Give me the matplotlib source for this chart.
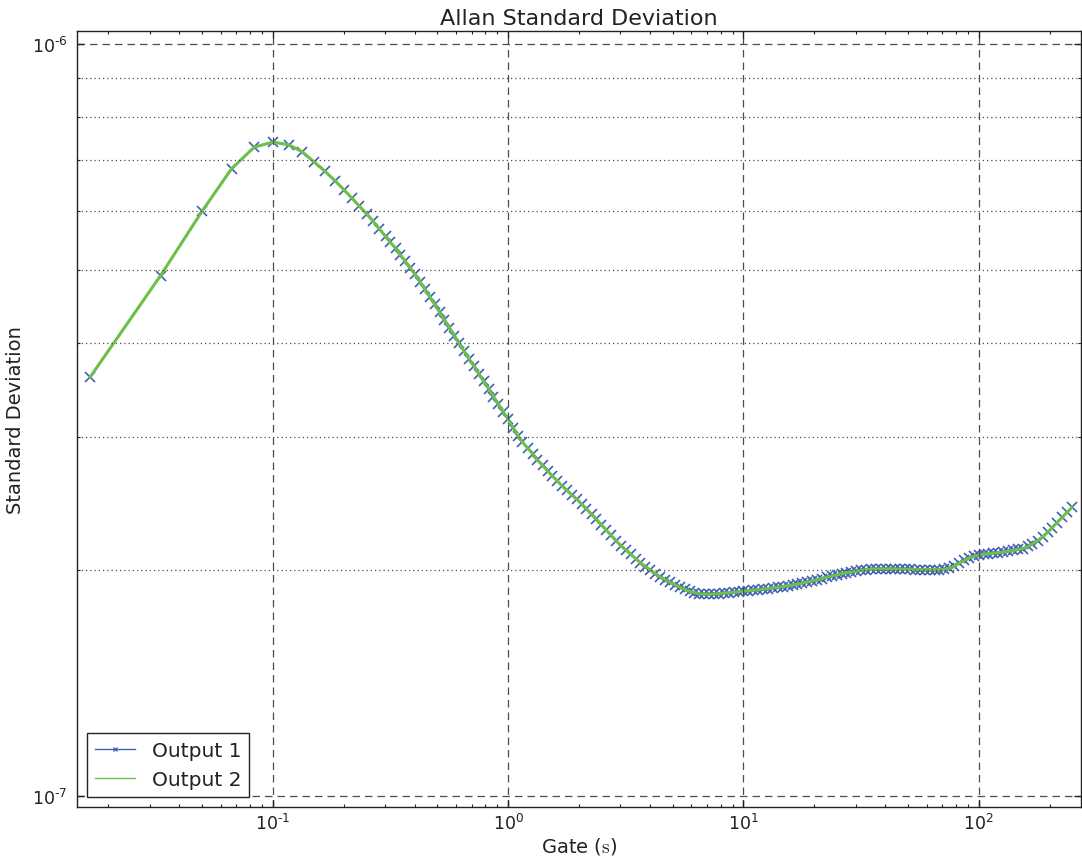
import matplotlib

matplotlib.use("Agg")
import matplotlib.pyplot as plt
import numpy as np
from matplotlib.lines import Line2D
from matplotlib.ticker import FuncFormatter, NullFormatter

# gate times (s) and Allan deviation (units of 1e-7)
TAU = [
    0.0167, 0.0333, 0.05, 0.0667, 0.0833, 0.1, 0.1167, 0.1333, 0.15, 0.1667,
    0.1833, 0.2, 0.2167, 0.2333, 0.25, 0.2667, 0.2833,
    0.301, 0.316, 0.332, 0.348, 0.365, 0.383, 0.402, 0.422, 0.442, 0.464,
    0.487, 0.511, 0.536, 0.562, 0.590, 0.619, 0.649, 0.681, 0.715, 0.750,
    0.787, 0.825, 0.866, 0.909, 0.953,
    1.00, 1.05, 1.10, 1.15, 1.21, 1.27, 1.33, 1.40, 1.47, 1.54, 1.62, 1.69,
    1.78, 1.87, 1.96, 2.05, 2.15, 2.26, 2.37, 2.49, 2.61, 2.74, 2.87, 3.01,
    3.16, 3.32, 3.48, 3.65, 3.83, 4.02, 4.22, 4.42, 4.64, 4.87, 5.11, 5.36,
    5.62, 5.90, 6.19, 6.49, 6.81, 7.15, 7.50, 7.87, 8.25, 8.66, 9.09, 9.53,
    10.0, 10.5, 11.0, 11.5, 12.1, 12.7, 13.3, 14.0, 14.7, 15.4, 16.2, 16.9,
    17.8, 18.7, 19.6, 20.5, 21.5, 22.6, 23.7, 24.9, 26.1, 27.4, 28.7, 30.1,
    31.6, 33.2, 34.8, 36.5, 38.3, 40.2, 42.2, 44.2, 46.4, 48.7, 51.1, 53.6,
    56.2, 59.0, 61.9, 64.9, 68.1, 71.5, 75.0, 78.7, 82.5, 86.6, 90.9, 95.3,
    100, 105, 110, 115, 121, 127, 133, 140, 147, 154, 162, 169,
    178, 187, 196, 205, 215, 226, 237, 249,
]

OUTPUT_1 = [
    3.604, 4.919, 5.991, 6.822, 7.289, 7.402, 7.341, 7.185, 6.962, 6.765,
    6.580, 6.401, 6.235, 6.081, 5.942, 5.808, 5.675,
    5.546, 5.447, 5.346, 5.244, 5.141, 5.040, 4.936, 4.829, 4.718, 4.610,
    4.504, 4.400, 4.296, 4.194, 4.094, 3.998, 3.906, 3.815, 3.728, 3.642,
    3.558, 3.477, 3.397, 3.319, 3.243,
    3.167, 3.089, 3.012, 2.955, 2.901, 2.850, 2.799, 2.751, 2.706, 2.663,
    2.624, 2.585, 2.548, 2.510, 2.480, 2.445, 2.407, 2.369, 2.332, 2.295,
    2.257, 2.221, 2.186, 2.153, 2.124, 2.095, 2.068, 2.042, 2.019, 1.997,
    1.976, 1.955, 1.940, 1.924, 1.910, 1.895, 1.883, 1.871, 1.864, 1.857,
    1.856, 1.855, 1.856, 1.858, 1.861, 1.863, 1.866, 1.869,
    1.873, 1.875, 1.878, 1.880, 1.884, 1.887, 1.892, 1.895, 1.899, 1.903,
    1.908, 1.913, 1.919, 1.926, 1.932, 1.939, 1.946, 1.954, 1.961, 1.968,
    1.975, 1.981, 1.986, 1.991, 1.995, 1.999, 2.002, 2.004, 2.004, 2.004,
    2.004, 2.003, 2.002, 2.001, 2.001, 2.000, 2.000, 2.000, 2.000, 2.000,
    2.000, 2.001, 2.007, 2.020, 2.040, 2.057, 2.072, 2.083,
    2.091, 2.096, 2.100, 2.103, 2.106, 2.109, 2.115, 2.121, 2.127, 2.133,
    2.147, 2.164, 2.186, 2.211, 2.241, 2.273, 2.309, 2.346, 2.382, 2.420,
]

# the second output lies on top of the first at this resolution
OUTPUT_2 = list(OUTPUT_1)

BLUE = "#3f5fb5"
GREEN = "#6cc04a"
GRID = "0.3"
TEXT = "#222222"


def decade_label(value, pos):
    exp = int(round(np.log10(value)))
    return "$\\mathdefault{10^{%s}}$" % str(exp).replace("-", "\u2010")


def plot_chart() -> None:
    plt.rcParams["mathtext.fontset"] = "cm"
    plt.rcParams["text.color"] = TEXT
    plt.rcParams["axes.labelcolor"] = TEXT
    plt.rcParams["xtick.color"] = TEXT
    plt.rcParams["ytick.color"] = TEXT

    tau = np.array(TAU)
    sig1 = np.array(OUTPUT_1) * 1e-7
    sig2 = np.array(OUTPUT_2) * 1e-7

    fig = plt.figure(figsize=(10.82, 8.62), dpi=100)
    fig.patch.set_facecolor("white")
    ax = fig.add_axes([77 / 1082, 1 - 808 / 862, 1004 / 1082, 776 / 862])

    ax.loglog(tau, sig1, color=BLUE, marker="x", markersize=6.5, markeredgewidth=1.2,
              linewidth=1.0, zorder=2)
    ax.loglog(tau, sig2, color=GREEN, linewidth=2.2, zorder=2.1)

    ax.set_xlim(0.0147, 272)
    ax.set_ylim(0.967e-7, 1.04e-6)

    ax.set_axisbelow(False)
    ax.grid(True, which="major", linestyle=(0, (6, 4)), color=GRID, linewidth=0.9)
    ax.yaxis.grid(True, which="minor", linestyle=(0, (1, 2.4)), color=GRID, linewidth=0.9)
    ax.xaxis.set_major_formatter(FuncFormatter(decade_label))
    ax.yaxis.set_major_formatter(FuncFormatter(decade_label))
    ax.yaxis.set_minor_formatter(NullFormatter())

    ax.tick_params(which="both", direction="in", top=True, right=True)
    ax.tick_params(which="major", length=5, width=1, labelsize=12.5)
    ax.tick_params(which="minor", length=2.5, width=0.8)
    ax.tick_params(axis="x", which="major", pad=4)
    ax.tick_params(axis="y", which="major", pad=7)

    for spine in ax.spines.values():
        spine.set_color("#222222")
        spine.set_linewidth(1.0)

    ax.set_title("Allan Standard Deviation", fontsize=16, pad=5)
    ax.set_xlabel("Gate ($\\mathrm{s}$)", fontsize=14, labelpad=2)
    ax.set_ylabel("Standard Deviation", fontsize=14, labelpad=5)

    handles = [
        Line2D([], [], color=BLUE, linewidth=1.0, marker="x", markersize=3,
               markeredgewidth=0.9),
        Line2D([], [], color=GREEN, linewidth=1.0),
    ]
    legend = ax.legend(
        handles,
        ["Output 1", "Output 2"],
        loc="lower left",
        numpoints=1,
        fontsize=14.5,
        fancybox=False,
        framealpha=1.0,
        borderaxespad=0.5,
        handlelength=2.0,
    )
    legend.get_frame().set_edgecolor("#222222")
    legend.get_frame().set_linewidth(1.0)

    fig.savefig("out.png", dpi=100)
    plt.close(fig)


def main() -> None:
    plot_chart()


if __name__ == "__main__":
    main()
